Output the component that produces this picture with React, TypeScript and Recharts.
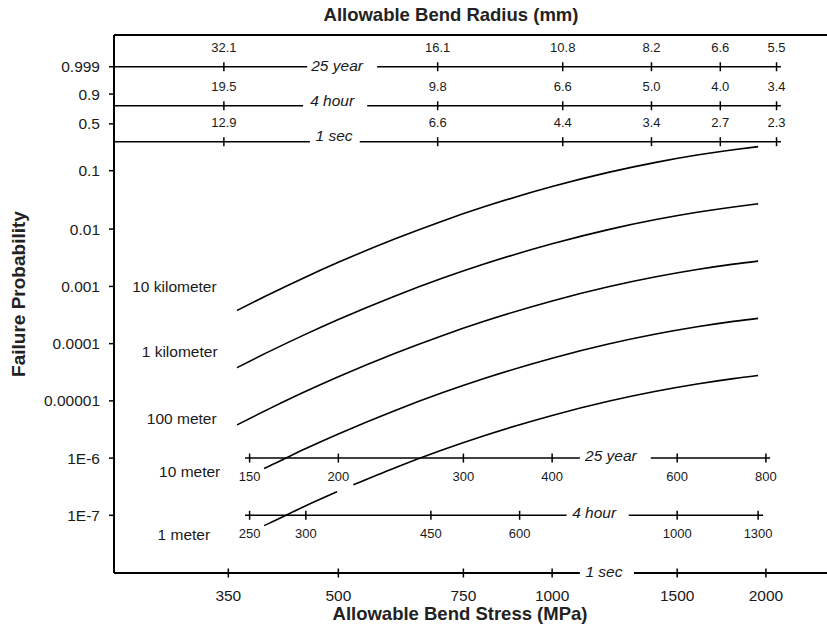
import { LineChart, Line, XAxis, YAxis, ReferenceLine, ReferenceDot } from "recharts";

// failure probability at these 1-sec stresses (MPa)
const stressPoints = [360, 400, 450, 500, 600, 700, 800, 1000, 1200, 1400, 1600, 1800, 1950];
const p10km = [3.8e-4, 7.32e-4, 1.465e-3, 2.633e-3, 6.715e-3, 0.01374, 0.02404, 0.05414, 0.0937, 0.137, 0.1792, 0.2174, 0.2423];
const p1km = [3.8e-5, 7.32e-5, 1.466e-4, 2.637e-4, 6.74e-4, 1.383e-3, 2.43e-3, 5.55e-3, 9.79e-3, 0.01462, 0.01956, 0.02421, 0.02737];
const p100m = [3.8e-6, 7.32e-6, 1.47e-5, 2.64e-5, 6.74e-5, 1.38e-4, 2.43e-4, 5.57e-4, 9.84e-4, 1.47e-3, 1.97e-3, 2.45e-3, 2.77e-3];
const stress10m = [393, 400, 450, 500, 600, 700, 800, 1000, 1200, 1400, 1600, 1800, 1950];
const p10m = [6.6e-7, 7.3e-7, 1.47e-6, 2.64e-6, 6.74e-6, 1.38e-5, 2.43e-5, 5.57e-5, 9.84e-5, 1.47e-4, 1.97e-4, 2.45e-4, 2.77e-4];
const stress1m = [393, 400, 450, 498, 510, 525, 600, 700, 800, 1000, 1200, 1400, 1600, 1800, 1950];
const p1m = [6.6e-8, 7.3e-8, 1.47e-7, 2.58e-7, null, 3.42e-7, 6.74e-7, 1.38e-6, 2.43e-6, 5.57e-6, 9.84e-6, 1.47e-5, 1.97e-5, 2.45e-5, 2.77e-5];
const seriesNames = ["10 kilometer", "1 kilometer", "100 meter", "10 meter", "1 meter"];

// axes
const probTicks = [1e-7, 1e-6, 1e-5, 1e-4, 1e-3, 0.01, 0.1, 0.5, 0.9, 0.999];
const probTickLabels = ["1E-7", "1E-6", "0.00001", "0.0001", "0.001", "0.01", "0.1", "0.5", "0.9", "0.999"];
const stress1secTicks = [350, 500, 750, 1000, 1500, 2000];
const stress25yrTicks = [150, 200, 300, 400, 600, 800];
const stress4hrTicks = [250, 300, 450, 600, 1000, 1300];
const ratio25yr = 2.5; // 1-sec stress / 25-year stress
const ratio4hr = 1.5;

// bend radius (mm) scales, ticks at these 1-sec stresses
const radiusStress = [345, 690, 1035, 1380, 1725, 2070];
const radius25yr = ["32.1", "16.1", "10.8", "8.2", "6.6", "5.5"];
const radius4hr = ["19.5", "9.8", "6.6", "5.0", "4.0", "3.4"];
const radius1sec = ["12.9", "6.6", "4.4", "3.4", "2.7", "2.3"];

const weib = (p: number) => Math.log(-Math.log1p(-p));
const toRows = (xs: number[], ps: (number | null)[]) =>
  xs.map((s, i) => ({ s, w: ps[i] == null ? null : weib(ps[i] as number) }));

const series = [
  toRows(stressPoints, p10km),
  toRows(stressPoints, p1km),
  toRows(stressPoints, p100m),
  toRows(stress10m, p10m),
  toRows(stress1m, p1m),
];

// layout
const S_MIN = 241.6;
const S_MAX = 2438;
const W_MIN = -18.44;
const W_MAX = 3.21;
const FONT = "Arial, 'Liberation Sans', Helvetica, sans-serif";
const INK = "#1a1a1a";

const seriesLabelAnchor = [
  { s: 337, p: 1.0e-3 },
  { s: 338, p: 7.4e-5 },
  { s: 337, p: 5.0e-6 },
  { s: 341, p: 5.9e-7 },
  { s: 330, p: 4.7e-8 },
];

const topScales = [
  { name: "25 year", p: 0.999, labels: radius25yr, gap: [452, 567], mid: 498, dy: -1.5 },
  { name: "4 hour", p: 0.762, labels: radius4hr, gap: [446, 549], mid: 490, dy: -5.5 },
  { name: "1 sec", p: 0.287, labels: radius1sec, gap: [456, 536], mid: 493, dy: -6.5 },
];
const TOP_END = 2100;

const bottomScales = [
  { name: "25 year", p: 1e-6, ticks: stress25yrTicks, ratio: ratio25yr, start: 369.5, end: 2027, gap: [1094, 1377], mid: 1210 },
  { name: "4 hour", p: 1e-7, ticks: stress4hrTicks, ratio: ratio4hr, start: 369.5, end: 1982, gap: [1048, 1282], mid: 1146 },
];
const AXIS_GAP = [1094, 1304];
const AXIS_MID = 1183;

const ProbTick = (props: any) => {
  const { x, y, payload } = props;
  const i = probTicks.findIndex((p) => Math.abs(weib(p) - payload.value) < 1e-6);
  return (
    <g>
      <line x1={x - 5} x2={x} y1={y} y2={y} stroke="#000" strokeWidth={1.5} />
      <text x={x - 14} y={y} textAnchor="end" dominantBaseline="central" fontSize={15.5} fontFamily={FONT} fill={INK}>
        {probTickLabels[i]}
      </text>
    </g>
  );
};

const StressTick = (props: any) => {
  const { x, y, payload } = props;
  return (
    <g>
      <line x1={x} x2={x} y1={y - 4.5} y2={y + 4.5} stroke="#000" strokeWidth={1.5} />
      <text x={x} y={y + 28} textAnchor="middle" fontSize={15.5} fontFamily={FONT} fill={INK}>
        {payload.value}
      </text>
    </g>
  );
};

const tickShape = (label: string, dy: number, size: number) => (pp: any) => (
  <g>
    <line x1={pp.cx} x2={pp.cx} y1={pp.cy - 4.5} y2={pp.cy + 4.5} stroke="#000" strokeWidth={1.5} />
    <text x={pp.cx} y={pp.cy + dy} textAnchor="middle" fontSize={size} fontFamily={FONT} fill={INK}>
      {label}
    </text>
  </g>
);

const italicShape = (label: string, dy: number) => (pp: any) => (
  <text x={pp.cx} y={pp.cy + dy} textAnchor="middle" dominantBaseline="central" fontSize={15.5} fontStyle="italic" fontFamily={FONT} fill={INK}>
    {label}
  </text>
);

const seg = (s1: number, s2: number, w: number, width = 1.5) => (
  <ReferenceLine
    key={`seg-${s1}-${s2}-${w}`}
    segment={[{ x: s1, y: w }, { x: s2, y: w }]}
    stroke="#000"
    strokeWidth={width}
    ifOverflow="visible"
  />
);

export default function App() {
  return (
    <div style={{ position: "absolute", left: 0, top: 0, width: 827, height: 637, background: "#fff", fontFamily: FONT }}>
      <LineChart width={827} height={637} margin={{ top: 35, right: 0, bottom: 0, left: 0 }}>
        <XAxis
          dataKey="s"
          type="number"
          scale="log"
          domain={[S_MIN, S_MAX]}
          allowDataOverflow
          ticks={stress1secTicks}
          interval={0}
          height={64}
          axisLine={false}
          tickLine={false}
          tickSize={0}
          tickMargin={0}
          tick={<StressTick />}
        />
        <YAxis
          type="number"
          domain={[W_MIN, W_MAX]}
          allowDataOverflow
          ticks={probTicks.map(weib)}
          interval={0}
          width={114}
          axisLine={{ stroke: "#000", strokeWidth: 2 }}
          tickLine={false}
          tickSize={0}
          tickMargin={0}
          tick={<ProbTick />}
        />

        {/* frame: top border and bottom axis line (broken for the 1 sec label) */}
        {seg(S_MIN, S_MAX, W_MAX, 2)}
        {seg(S_MIN, AXIS_GAP[0], W_MIN, 2)}
        {seg(AXIS_GAP[1], S_MAX, W_MIN, 2)}
        <ReferenceDot x={AXIS_MID} y={W_MIN} r={0} ifOverflow="visible" shape={italicShape("1 sec", -2)} />

        {/* bend radius scales */}
        {topScales.map((sc) => {
          const w = weib(sc.p);
          return [
            seg(S_MIN, sc.gap[0], w),
            seg(sc.gap[1], TOP_END, w),
            <ReferenceDot key={`tl-${sc.name}`} x={sc.mid} y={w} r={0} ifOverflow="visible" shape={italicShape(sc.name, sc.dy)} />,
            ...radiusStress.map((s, i) => (
              <ReferenceDot key={`tt-${sc.name}-${i}`} x={s} y={w} r={0} ifOverflow="visible" shape={tickShape(sc.labels[i], -15, 13)} />
            )),
          ];
        })}

        {/* long-term stress scales */}
        {bottomScales.map((sc) => {
          const w = weib(sc.p);
          return [
            seg(sc.start, sc.gap[0], w),
            seg(sc.gap[1], sc.end, w),
            <ReferenceDot key={`bl-${sc.name}`} x={sc.mid} y={w} r={0} ifOverflow="visible" shape={italicShape(sc.name, -2.5)} />,
            ...sc.ticks.map((t) => (
              <ReferenceDot key={`bt-${sc.name}-${t}`} x={t * sc.ratio} y={w} r={0} ifOverflow="visible" shape={tickShape(String(t), 23, 13)} />
            )),
          ];
        })}

        {series.map((rows, i) => (
          <Line
            key={seriesNames[i]}
            data={rows}
            dataKey="w"
            name={seriesNames[i]}
            type="monotone"
            stroke="#000"
            strokeWidth={1.6}
            dot={false}
            activeDot={false}
            connectNulls={false}
            isAnimationActive={false}
          />
        ))}

        {seriesNames.map((name, i) => (
          <ReferenceDot
            key={`sl-${name}`}
            x={seriesLabelAnchor[i].s}
            y={weib(seriesLabelAnchor[i].p)}
            r={0}
            ifOverflow="visible"
            shape={(pp: any) => (
              <text x={pp.cx} y={pp.cy} textAnchor="end" dominantBaseline="central" fontSize={15.5} fontFamily={FONT} fill={INK}>
                {name}
              </text>
            )}
          />
        ))}
      </LineChart>

      <div style={{ position: "absolute", left: 451, top: 15, transform: "translate(-50%,-50%)", whiteSpace: "nowrap", fontWeight: "bold", fontSize: 18.5, color: "#222" }}>
        Allowable Bend Radius (mm)
      </div>
      <div style={{ position: "absolute", left: 460, top: 614, transform: "translate(-50%,-50%)", whiteSpace: "nowrap", fontWeight: "bold", fontSize: 18.5, color: "#222" }}>
        Allowable Bend Stress (MPa)
      </div>
      <div style={{ position: "absolute", left: 19, top: 294, transform: "translate(-50%,-50%) rotate(-90deg)", whiteSpace: "nowrap", fontWeight: "bold", fontSize: 19, color: "#222" }}>
        Failure Probability
      </div>
    </div>
  );
}
